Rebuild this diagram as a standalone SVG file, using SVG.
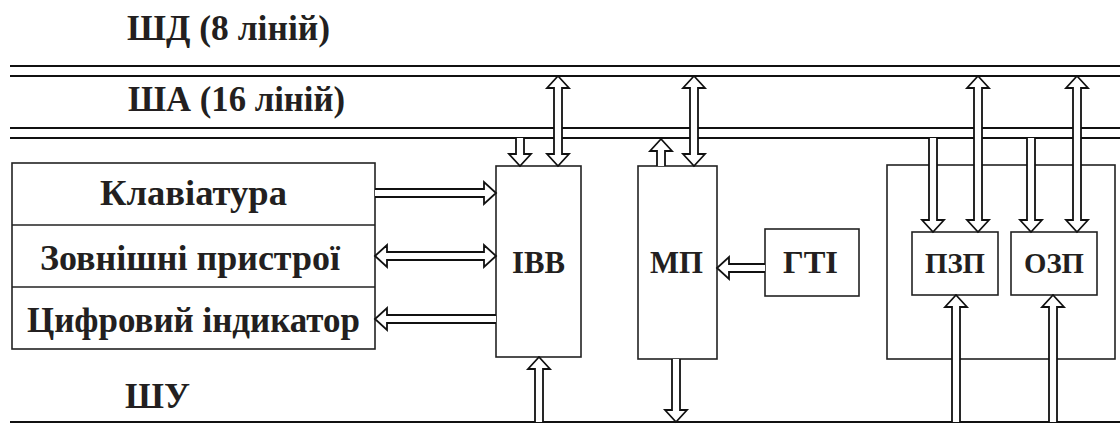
<svg xmlns="http://www.w3.org/2000/svg" width="1120" height="427" viewBox="0 0 1120 427">
<style>
.bus{stroke:#111;stroke-width:2;fill:none}
.box{stroke:#222;stroke-width:1.6;fill:none}
.arr{stroke:#111;stroke-width:1.8;fill:#fff;stroke-linejoin:miter}
.t{font-family:'Liberation Serif','Times New Roman',serif;font-weight:700;fill:#231f20}
</style>
<rect width="1120" height="427" fill="#fff"/>
<g id="buses">
<line class="bus" x1="10" y1="66" x2="1120" y2="66"/>
<line class="bus" x1="10" y1="76" x2="1120" y2="76"/>
<line class="bus" x1="10" y1="128" x2="1120" y2="128"/>
<line class="bus" x1="10" y1="138" x2="1120" y2="138"/>
<line class="bus" x1="10" y1="422" x2="1120" y2="422"/>
<text class="t" x="127" y="40" font-size="35" textLength="203" lengthAdjust="spacingAndGlyphs">ШД (8 ліній)</text>
<text class="t" x="128" y="111" font-size="35" textLength="217" lengthAdjust="spacingAndGlyphs">ША (16 ліній)</text>
<text class="t" x="125" y="408" font-size="36" textLength="65" lengthAdjust="spacingAndGlyphs">ШУ</text>
</g>
<g id="periph">
<rect class="box" x="12" y="163" width="363" height="186"/>
<line class="box" x1="12" y1="225" x2="375" y2="225"/>
<line class="box" x1="12" y1="287" x2="375" y2="287"/>
<text class="t" x="100" y="205" font-size="36" textLength="187" lengthAdjust="spacingAndGlyphs">Клавіатура</text>
<text class="t" x="40" y="270" font-size="35" textLength="300" lengthAdjust="spacingAndGlyphs">Зовнішні пристрої</text>
<text class="t" x="27" y="332" font-size="35" textLength="333" lengthAdjust="spacingAndGlyphs">Цифровий індикатор</text>
</g>
<g id="ivv">
<rect class="box" x="496" y="166" width="85" height="191"/>
<text class="t" x="512" y="273" font-size="32" textLength="53" lengthAdjust="spacingAndGlyphs">ІВВ</text>
</g>
<g id="mp">
<rect class="box" x="638" y="166" width="79" height="193"/>
<text class="t" x="650" y="273" font-size="32" textLength="53" lengthAdjust="spacingAndGlyphs">МП</text>
</g>
<g id="gti">
<rect class="box" x="765" y="229" width="94" height="67"/>
<text class="t" x="783" y="273" font-size="32" textLength="55" lengthAdjust="spacingAndGlyphs">ГТІ</text>
</g>
<g id="memory">
<rect class="box" x="887" y="165" width="228" height="194"/>
</g>
<g id="pzp">
<rect class="box" x="912" y="232" width="86" height="63"/>
<text class="t" x="925" y="273" font-size="29" textLength="60" lengthAdjust="spacingAndGlyphs">ПЗП</text>
</g>
<g id="ozp">
<rect class="box" x="1011" y="232" width="86" height="63"/>
<text class="t" x="1024" y="273" font-size="29" textLength="60" lengthAdjust="spacingAndGlyphs">ОЗП</text>
</g>
<g id="connectors">
<path class="arr" d="M516,138 V154 H509 L520,166 L531,154 H524 V138"/>
<path class="arr" d="M558,76 L569,88 H562 V154 H569 L558,166 L547,154 H554 V88 H547 Z"/>
<path class="arr" d="M657,166 V151 H650 L661,139 L672,151 H665 V166"/>
<path class="arr" d="M694,76 L705,88 H698 V154 H705 L694,166 L683,154 H690 V88 H683 Z"/>
<path class="arr" d="M929,138 V220 H922 L933,232 L944,220 H937 V138"/>
<path class="arr" d="M978,76 L989,88 H982 V220 H989 L978,232 L967,220 H974 V88 H967 Z"/>
<path class="arr" d="M1027,138 V220 H1020 L1031,232 L1042,220 H1035 V138"/>
<path class="arr" d="M1077,76 L1088,88 H1081 V220 H1088 L1077,232 L1066,220 H1073 V88 H1066 Z"/>
<path class="arr" d="M952,422 V307 H945 L956,295 L967,307 H960 V422"/>
<path class="arr" d="M1049,422 V307 H1042 L1053,295 L1064,307 H1057 V422"/>
<path class="arr" d="M535,422 V369 H528 L539,357 L550,369 H543 V422"/>
<path class="arr" d="M672,359 V410 H665 L676,422 L687,410 H680 V359"/>
<path class="arr" d="M375,189 H484 V182 L496,193 L484,204 V197 H375"/>
<path class="arr" d="M375,256 L387,245 V252 H484 V245 L496,256 L484,267 V260 H387 V267 Z"/>
<path class="arr" d="M496,315 H387 V308 L375,319 L387,330 V323 H496"/>
<path class="arr" d="M765,264 H729 V257 L717,268 L729,279 V272 H765"/>
</g>
</svg>
